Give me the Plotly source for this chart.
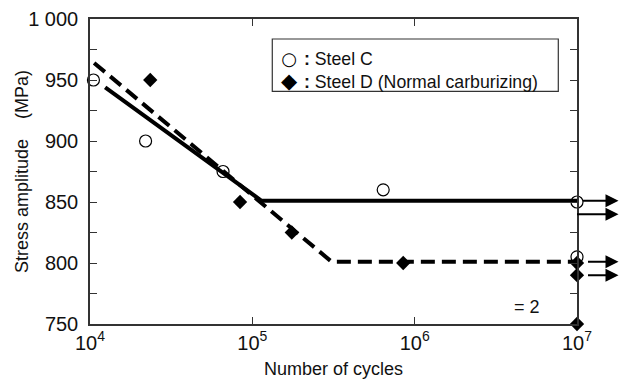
import plotly.graph_objects as go

# Fatigue test results (cycles to failure / run-out, stress amplitude in MPa)
steel_c_cycles = [1.05e4, 2.2e4, 6.6e4, 6.4e5, 1e7, 1e7]
steel_c_stress = [950, 900, 875, 860, 850, 805]

steel_d_cycles = [2.35e4, 8.4e4, 1.75e5, 8.5e5, 1e7, 1e7, 1e7]
steel_d_stress = [950, 850, 825, 800, 800, 790, 750]

# S-N curves (sloped part + fatigue limit)
curve_c_cycles = [1.24e4, 1.14e5, 1e7]
curve_c_stress = [944, 851, 851]
curve_d_cycles = [1.06e4, 3.08e5, 1e7]
curve_d_stress = [964, 801, 801]

# Run-out specimens (no failure at 10^7 cycles)
runout_stress = [851, 840, 801, 790]
runout_gap = [6, 0, 11, 11]

y_ticks = [750, 800, 850, 900, 950, 1000]
y_ticktext = ["750", "800", "850", "900", "950", "1 000"]
x_ticks = [1e4, 1e5, 1e6, 1e7]
x_ticktext = ["10<sup>4</sup>", "10<sup>5</sup>", "10<sup>6</sup>", "10<sup>7</sup>"]

key_labels = ["Steel C", "Steel D (Normal carburizing)"]

FONT = "Liberation Sans, Arial, sans-serif"
INK = "#111111"
AXIS = "#333333"

fig = go.Figure()

fig.add_trace(go.Scatter(
    x=curve_c_cycles, y=curve_c_stress, mode="lines",
    line=dict(color="black", width=4), showlegend=False, hoverinfo="skip"))
fig.add_trace(go.Scatter(
    x=curve_d_cycles, y=curve_d_stress, mode="lines",
    line=dict(color="black", width=4, dash="14px,7px"), showlegend=False, hoverinfo="skip"))

fig.add_trace(go.Scatter(
    x=steel_c_cycles, y=steel_c_stress, mode="markers", name=key_labels[0],
    marker=dict(symbol="circle", size=12, color="rgba(255,255,255,0)",
                line=dict(color="black", width=1.2)),
    cliponaxis=False, showlegend=False))
fig.add_trace(go.Scatter(
    x=steel_d_cycles, y=steel_d_stress, mode="markers", name=key_labels[1],
    marker=dict(symbol="diamond", size=11, color="black",
                line=dict(color="black", width=0)),
    cliponaxis=False, showlegend=False))

for s, gap in zip(runout_stress, runout_gap):
    fig.add_annotation(
        x=7, y=s, xref="x", yref="y", text="", showarrow=True,
        ax=43, ay=0, axref="pixel", ayref="pixel",
        arrowside="start", startarrowhead=2, startarrowsize=1.3,
        arrowwidth=2, arrowcolor="black", standoff=gap)

fig.add_annotation(
    x=6.693, y=764, xref="x", yref="y", text="= 2", showarrow=False,
    font=dict(family=FONT, size=18, color=INK))

# key: framed box, symbol column and label column
fig.add_shape(type="rect", xref="paper", yref="paper",
              x0=0.3743, x1=0.9616, y0=0.7624, y1=0.9344,
              line=dict(color=AXIS, width=1.2), fillcolor="white", layer="above")
key_center_y = 0.8304
fig.add_annotation(
    x=0.4097, y=key_center_y, xref="paper", yref="paper", xanchor="center", yanchor="middle",
    align="center", showarrow=False, borderpad=0,
    text=("<span style='font-family:DejaVu Sans;font-size:18px'>\u25cb</span><br>"
          "<span style='font-family:DejaVu Sans;font-size:21px'>\u25c6</span>"),
    font=dict(family="DejaVu Sans", size=17.7, color="black"))
fig.add_annotation(
    x=0.4374, y=key_center_y, xref="paper", yref="paper", xanchor="left", yanchor="middle",
    align="left", showarrow=False, borderpad=0,
    text="<br>".join("<b>:</b> " + lab for lab in key_labels),
    font=dict(family=FONT, size=17.7, color=INK))

# y-axis title
fig.add_annotation(
    x=-0.1407, y=0.5, xref="paper", yref="paper", xanchor="center", yanchor="middle",
    text="Stress amplitude\u00a0\u00a0\u00a0\u00a0(MPa)", textangle=-90, showarrow=False,
    font=dict(family=FONT, size=18, color=INK))

fig.update_xaxes(
    type="log", range=[4, 7], automargin=False,
    tickmode="array", tickvals=x_ticks, ticktext=x_ticktext,
    ticks="inside", ticklen=7, tickwidth=1.3, tickcolor=AXIS,
    showline=True, linecolor=AXIS, linewidth=1.5, mirror="ticks",
    showgrid=False, zeroline=False,
    tickfont=dict(family=FONT, size=20, color=INK),
    title=dict(text="Number of cycles", standoff=14,
               font=dict(family=FONT, size=18, color=INK)))

fig.update_yaxes(
    range=[750, 1000], automargin=False,
    tickmode="array", tickvals=y_ticks, ticktext=y_ticktext,
    ticks="inside", ticklen=7, tickwidth=1.3, tickcolor=AXIS,
    minor=dict(tickmode="linear", tick0=750, dtick=25, ticks="inside",
               ticklen=7, tickwidth=1.3, tickcolor=AXIS),
    showline=True, linecolor=AXIS, linewidth=1.5, mirror="ticks",
    showgrid=False, zeroline=False, ticklabelstandoff=6,
    tickfont=dict(family=FONT, size=20, color=INK))

fig.update_layout(
    width=626, height=379,
    margin=dict(l=90, r=49, t=19, b=55),
    paper_bgcolor="white", plot_bgcolor="white",
    font=dict(family=FONT, color=INK),
    showlegend=False,
)

fig.write_html("out.html")
